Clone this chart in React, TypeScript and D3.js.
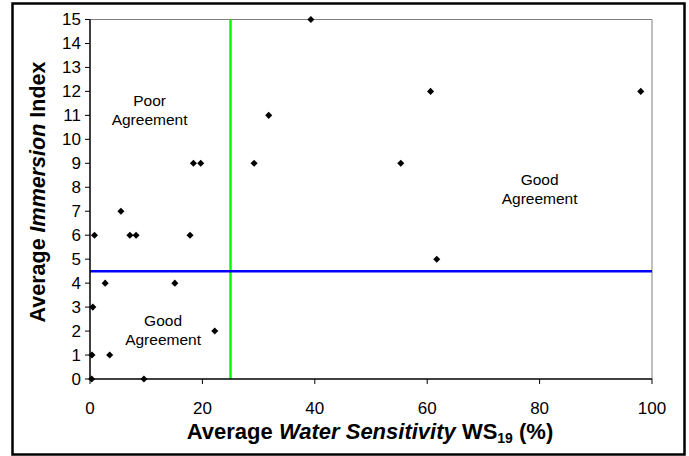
import React from "react";
import * as d3 from "d3";

const waterSensitivity = [0.3, 0.35, 0.5, 0.8, 2.7, 3.5, 5.5, 7.1, 8.2, 9.6, 15.1, 17.8, 18.4, 19.7, 22.2, 29.2, 31.8, 39.3, 55.3, 60.6, 61.7, 98.0];
const immersionIndex = [0, 1, 3, 6, 4, 1, 7, 6, 6, 0, 4, 6, 9, 9, 2, 9, 11, 15, 9, 12, 5, 12];
const xTicks = [0, 20, 40, 60, 80, 100];
const yTicks = d3.range(0, 16);
const wsThreshold = 25;
const indexThreshold = 4.5;

const labels = [
  { x: 10.6, y: 11.4, lines: ["Poor", "Agreement"] },
  { x: 13, y: 2.2, lines: ["Good", "Agreement"] },
  { x: 80, y: 8.1, lines: ["Good", "Agreement"] },
];

const W = 689;
const H = 456;
const m = { left: 90, right: 652, top: 19.5, bottom: 379 };

export default function App() {
  const x = d3.scaleLinear().domain([0, 100]).range([m.left, m.right]);
  const y = d3.scaleLinear().domain([0, 15]).range([m.bottom, m.top]);
  // square turned 45deg gives the even diamond marker
  const diamond = d3.symbol().type(d3.symbolSquare).size(25)();
  const font = "'Liberation Sans', Arial, sans-serif";

  return (
    <svg width={W} height={H} style={{ position: "absolute", left: 0, top: 0 }} fontFamily={font}>
      <rect x={12.5} y={3.5} width={672} height={451} fill="white" stroke="black" strokeWidth={2.5} />

      {/* plot frame */}
      <line x1={m.left} x2={m.right} y1={m.top} y2={m.top} stroke="#808080" />
      <line x1={m.right} x2={m.right} y1={m.top} y2={m.bottom} stroke="#808080" />

      {/* reference lines */}
      <line x1={x(wsThreshold)} x2={x(wsThreshold)} y1={m.top} y2={m.bottom} stroke="#00ff00" strokeWidth={2.5} />
      <line x1={m.left} x2={m.right} y1={y(indexThreshold)} y2={y(indexThreshold)} stroke="#0000ff" strokeWidth={2.5} />

      {/* axes */}
      <line x1={m.left} x2={m.left} y1={m.top} y2={m.bottom} stroke="black" strokeWidth={1.5} />
      <line x1={m.left} x2={m.right} y1={m.bottom} y2={m.bottom} stroke="black" strokeWidth={1.5} />
      {yTicks.map((t) => (
        <g key={"y" + t}>
          <line x1={m.left - 5} x2={m.left} y1={y(t)} y2={y(t)} stroke="black" />
          <text x={m.left - 9} y={y(t)} dy="0.35em" textAnchor="end" fontSize={17}>{t}</text>
        </g>
      ))}
      {xTicks.map((t) => (
        <g key={"x" + t}>
          <line x1={x(t)} x2={x(t)} y1={m.bottom} y2={m.bottom + 5} stroke="black" />
          <text x={x(t)} y={408} dy="0.35em" textAnchor="middle" fontSize={17}>{t}</text>
        </g>
      ))}

      {/* points */}
      {waterSensitivity.map((v, i) => (
        <path key={i} d={diamond!} transform={`translate(${x(v)},${y(immersionIndex[i])}) rotate(45)`} fill="black" />
      ))}

      {labels.map((l, i) => (
        <text key={i} x={x(l.x)} y={y(l.y)} textAnchor="middle" fontSize={15.5}>
          {l.lines.map((s, j) => (
            <tspan key={j} x={x(l.x)} dy={j === 0 ? 0 : 19}>{s}</tspan>
          ))}
        </text>
      ))}

      {/* axis titles */}
      <text x={370} y={439} textAnchor="middle" fontSize={22} fontWeight="bold">
        Average <tspan fontStyle="italic">Water Sensitivity</tspan> WS
        <tspan fontSize={14} dy={4}>19</tspan>
        <tspan dy={-4}> (%)</tspan>
      </text>
      <text transform={`translate(45,192) rotate(-90)`} textAnchor="middle" fontSize={21.5} fontWeight="bold">
        Average <tspan fontStyle="italic">Immersion</tspan> Index
      </text>
    </svg>
  );
}
